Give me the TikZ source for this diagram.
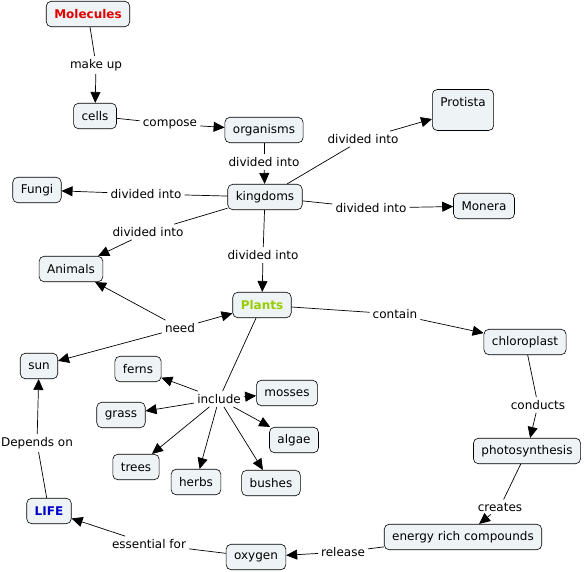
\documentclass[tikz,border=0pt]{standalone}
\usepackage{fontspec}
\setmainfont{DejaVu Sans}
\usetikzlibrary{arrows.meta}
\definecolor{cmapfill}{HTML}{EEF3F6}
\definecolor{molred}{HTML}{E00000}
\definecolor{plantgreen}{HTML}{99CC00}
\definecolor{lifeblue}{HTML}{0000CC}
\begin{document}
\begin{tikzpicture}[x=1pt, y=-1pt, font=\fontsize{12}{14}\selectfont]
        % Define styles
        \tikzstyle{concept} = [rectangle, rounded corners=5pt, minimum height=25.5pt, inner xsep=8pt, draw=black, fill=cmapfill, line width=0.6pt]
        \tikzstyle{phrase} = [inner sep=3pt]
        \tikzstyle{conn} = [draw=black, line width=0.7pt]
        \tikzstyle{arrow} = [conn, -{Triangle[length=11pt,width=10pt]}]

        \useasboundingbox (0,0) rectangle (584,572);

        % Concepts
        \node (molecules) [concept, font=\fontsize{12}{14}\selectfont\bfseries, text=molred] at (88,14) {Molecules};
        \node (cells) [concept] at (95,116) {cells};
        \node (organisms) [concept] at (264,130) {organisms};
        \node (kingdoms) [concept] at (265,197) {kingdoms};
        \node (protista) [concept, align=center, minimum width=61pt, minimum height=41pt] at (463,110) {Protista\\[2pt]\mbox{}};
        \node (monera) [concept] at (484,206) {Monera};
        \node (fungi) [concept] at (37,190) {Fungi};
        \node (animals) [concept] at (71,269) {Animals};
        \node (plants) [concept, font=\fontsize{12}{14}\selectfont\bfseries, text=plantgreen] at (262,305) {Plants};
        \node (sun) [concept] at (39,366) {sun};
        \node (chloroplast) [concept] at (525,342) {chloroplast};
        \node (photo) [concept] at (527,451) {photosynthesis};
        \node (energy) [concept] at (463,537) {energy rich compounds};
        \node (oxygen) [concept] at (256,557) {oxygen};
        \node (life) [concept, font=\fontsize{12}{14}\selectfont\bfseries, text=lifeblue] at (49,511) {LIFE};
        \node (ferns) [concept] at (138,369) {ferns};
        \node (mosses) [concept] at (287,393) {mosses};
        \node (grass) [concept] at (121,415) {grass};
        \node (algae) [concept] at (294,440) {algae};
        \node (trees) [concept] at (136,467) {trees};
        \node (herbs) [concept] at (196,482) {herbs};
        \node (bushes) [concept] at (271,483) {bushes};

        % Linking phrases
        \node (makeup) [phrase] at (96,65) {make up};
        \node (compose) [phrase] at (170,124) {compose};
        \node (divA) [phrase] at (264,162) {divided into};
        \node (divB) [phrase] at (363,139) {divided into};
        \node (divC) [phrase] at (371,208) {divided into};
        \node (divD) [phrase] at (146,194) {divided into};
        \node (divE) [phrase] at (148,232) {divided into};
        \node (divF) [phrase] at (263,255) {divided into};
        \node (need) [phrase] at (180,328) {need};
        \node (contain) [phrase] at (395,314) {contain};
        \node (conducts) [phrase] at (538,405) {conducts};
        \node (creates) [phrase] at (500,507) {creates};
        \node (release) [phrase] at (343,552) {release};
        \node (essential) [phrase] at (149,544) {essential for};
        \node (depends) [phrase] at (37,443) {Depends on};
        \node (include) [phrase] at (219,399) {include};

        % Connectors
        \draw [conn] (molecules) -- (makeup);
        \draw [arrow] (makeup) -- (cells);
        \draw [conn] (cells) -- (compose);
        \draw [arrow] (compose) -- (organisms);
        \draw [conn] (organisms) -- (divA);
        \draw [arrow] (divA) -- (kingdoms);
        \draw [conn] (kingdoms) -- (divB);
        \draw [arrow] (divB) -- (protista);
        \draw [conn] (kingdoms) -- (divC);
        \draw [arrow] (divC) -- (monera);
        \draw [conn] (kingdoms) -- (divD);
        \draw [arrow] (divD) -- (fungi);
        \draw [conn] (kingdoms) -- (divE);
        \draw [arrow] (divE) -- (animals);
        \draw [conn] (kingdoms) -- (divF);
        \draw [arrow] (divF) -- (plants);
        \draw [arrow] (need) -- (animals);
        \draw [arrow] (need) -- (plants);
        \draw [arrow] (need) -- (sun);
        \draw [conn] (plants) -- (contain);
        \draw [arrow] (contain) -- (chloroplast);
        \draw [conn] (chloroplast) -- (conducts);
        \draw [arrow] (conducts) -- (photo);
        \draw [conn] (photo) -- (creates);
        \draw [arrow] (creates) -- (energy);
        \draw [conn] (energy) -- (release);
        \draw [arrow] (release) -- (oxygen);
        \draw [conn] (oxygen) -- (essential);
        \draw [arrow] (essential) -- (life);
        \draw [conn] (life) -- (depends);
        \draw [arrow] (depends) -- (sun);
        \draw [conn] (plants) -- (include);
        \foreach \target in {ferns, mosses, grass, algae, trees, herbs, bushes}
            \draw [arrow] (include) -- (\target);
    \end{tikzpicture}
\end{document}
